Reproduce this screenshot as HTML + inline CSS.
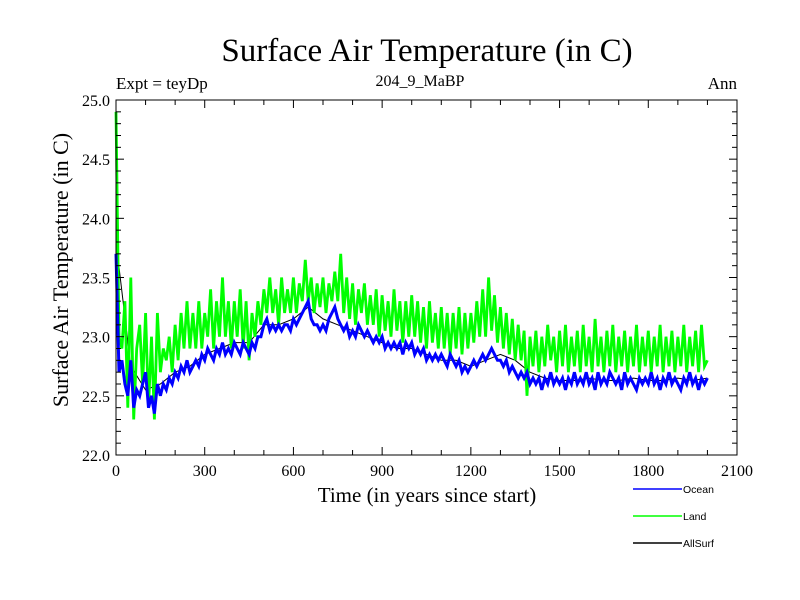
<!DOCTYPE html>
<html><head><meta charset="utf-8"><style>
body{margin:0;background:#fff}
svg{display:block}
text{font-family:"Liberation Serif",serif;fill:#000}
.lg{font-family:"Liberation Sans",sans-serif;font-size:10.5px}
</style></head><body>
<svg id="chart" width="800" height="600">
<text x="427" y="61" font-size="33" text-anchor="middle">Surface Air Temperature (in C)</text>
<text x="116" y="89" font-size="17">Expt = teyDp</text>
<text x="420" y="86" font-size="16" text-anchor="middle">204_9_MaBP</text>
<text x="737" y="89" font-size="17" text-anchor="end">Ann</text>
<text transform="translate(68,270) rotate(-90)" font-size="22" text-anchor="middle">Surface Air Temperature (in C)</text>
<text x="427" y="502" font-size="21" text-anchor="middle">Time (in years since start)</text>
<g id="series"></g>
<g id="axes"></g>
<g>
<line x1="633" y1="489" x2="682" y2="489" stroke="#0000ff" stroke-width="1.5"/>
<text x="683" y="493" class="lg">Ocean</text>
<line x1="633" y1="516" x2="682" y2="516" stroke="#00ff00" stroke-width="1.5"/>
<text x="683" y="520" class="lg">Land</text>
<line x1="633" y1="543" x2="682" y2="543" stroke="#000" stroke-width="1.5"/>
<text x="683" y="547" class="lg">AllSurf</text>
</g>
</svg>
<script>
const yearStep = 10;
const oceanValues = [23.7,22.7,22.8,22.6,22.5,22.8,22.4,22.55,22.5,22.6,22.7,22.4,22.5,22.35,22.6,22.5,22.6,22.55,22.65,22.6,
22.7,22.65,22.75,22.7,22.8,22.7,22.75,22.8,22.75,22.85,22.8,22.9,22.85,22.8,22.9,22.85,22.95,22.85,22.9,22.85,
22.95,22.9,22.85,22.95,22.9,22.85,22.95,22.9,23.0,23.0,23.1,23.15,23.05,23.1,23.05,23.1,23.05,23.1,23.1,23.05,
23.15,23.1,23.15,23.2,23.25,23.3,23.15,23.1,23.1,23.05,23.1,23.05,23.15,23.2,23.25,23.15,23.1,23.05,23.1,23.0,
23.05,23.0,23.1,23.05,23.0,23.05,23.0,22.95,23.0,22.95,23.0,22.9,22.95,22.9,22.95,22.9,22.95,22.85,22.95,22.9,
22.95,22.85,22.9,22.85,22.9,22.8,22.85,22.8,22.85,22.8,22.85,22.8,22.75,22.85,22.8,22.75,22.8,22.7,22.75,22.7,
22.75,22.8,22.75,22.8,22.85,22.8,22.85,22.9,22.85,22.8,22.8,22.75,22.8,22.7,22.75,22.7,22.65,22.7,22.65,22.7,
22.6,22.65,22.6,22.65,22.55,22.65,22.6,22.7,22.6,22.65,22.6,22.65,22.55,22.65,22.6,22.7,22.6,22.65,22.6,22.7,
22.6,22.65,22.55,22.7,22.6,22.65,22.6,22.7,22.65,22.6,22.65,22.55,22.7,22.6,22.65,22.6,22.55,22.65,22.6,22.65,
22.6,22.7,22.6,22.65,22.55,22.65,22.6,22.7,22.6,22.65,22.6,22.55,22.65,22.6,22.7,22.6,22.65,22.55,22.65,22.6,22.65];
const landValues = [24.9,23.0,22.9,23.3,22.4,23.5,22.3,22.9,23.1,22.6,23.2,22.4,23.0,22.3,23.2,22.7,22.9,22.8,23.0,22.7,
23.1,22.8,23.2,22.9,23.3,22.9,23.2,22.9,23.3,22.9,23.2,23.0,23.4,22.9,23.3,23.0,23.5,23.0,23.3,22.9,
23.3,23.0,23.4,22.9,23.3,22.8,23.2,23.0,23.3,23.1,23.4,23.2,23.5,23.2,23.4,23.1,23.5,23.2,23.4,23.2,
23.5,23.2,23.45,23.3,23.65,23.3,23.5,23.2,23.45,23.25,23.5,23.2,23.45,23.3,23.55,23.3,23.7,23.2,23.5,23.15,
23.45,23.1,23.4,23.2,23.45,23.1,23.35,23.1,23.4,23.0,23.35,23.05,23.3,23.0,23.4,23.05,23.3,22.95,23.3,23.0,
23.35,23.0,23.3,22.95,23.25,22.9,23.3,22.95,23.2,22.9,23.25,22.9,23.2,22.85,23.2,22.9,23.25,22.85,23.2,22.9,
23.2,22.95,23.3,23.0,23.4,23.0,23.5,23.05,23.35,22.95,23.25,22.9,23.2,22.85,23.15,22.8,23.1,22.8,23.05,22.5,
23.0,22.75,23.05,22.7,23.0,22.75,23.1,22.8,23.0,22.7,23.05,22.75,23.1,22.7,23.0,22.75,23.05,22.7,23.1,22.75,
23.0,22.7,23.15,22.75,23.0,22.7,23.05,22.75,23.1,22.7,23.0,22.75,23.05,22.7,23.0,22.75,23.1,22.7,23.0,22.75,
23.05,22.7,23.0,22.75,23.1,22.7,23.0,22.75,23.05,22.7,23.0,22.75,23.1,22.7,23.0,22.75,23.05,22.7,23.1,22.75,22.8];
const allSurfStep = 50;
const allSurfValues = [23.8,22.75,22.55,22.6,22.7,22.75,22.85,22.9,22.95,22.95,23.1,23.1,23.15,23.25,23.15,23.1,23.05,23.0,22.95,22.9,
22.9,22.85,22.8,22.8,22.75,22.8,22.85,22.8,22.7,22.65,22.63,22.63,22.65,22.63,22.63,22.65,22.63,22.63,22.65,22.63,22.65];
const xTicks = [0,300,600,900,1200,1500,1800,2100];
const yTicks = [22.0,22.5,23.0,23.5,24.0,24.5,25.0];

const X0=116,X1=737,Y0=455,Y1=100;
const xS = v => X0 + (v/2100)*(X1-X0);
const yS = v => Y0 - ((v-22)/3)*(Y0-Y1);
const NS="http://www.w3.org/2000/svg";
const series=document.getElementById('series');
const axes=document.getElementById('axes');
function mk(tag,attrs,parent){const e=document.createElementNS(NS,tag);for(const k in attrs)e.setAttribute(k,attrs[k]);parent.appendChild(e);return e;}
function line(vals,step,color,name,w){
  const pts=vals.map((v,i)=>xS(i*step).toFixed(1)+','+yS(v).toFixed(1)).join(' ');
  const p=mk('polyline',{points:pts,fill:'none',stroke:color,'stroke-width':w,'stroke-linejoin':'miter'},series);
  
  
}
line(allSurfValues,allSurfStep,'#000000','allsurf-line',1);
line(landValues,yearStep,'#00ff00','land-line',2.8);
line(oceanValues,yearStep,'#0000ff','ocean-line',3);

const frame=mk('rect',{x:X0,y:Y1,width:X1-X0,height:Y0-Y1,fill:'none',stroke:'#000','stroke-width':1},axes);


for(let v=0;v<=2100;v+=100){
  const major=v%300===0, L=major?8:5, x=xS(v);
  mk('line',{x1:x,y1:Y0,x2:x,y2:Y0-L,stroke:'#000'},axes);
  mk('line',{x1:x,y1:Y1,x2:x,y2:Y1+L,stroke:'#000'},axes);
}
for(let k=0;k<=30;k++){
  const v=22+k*0.1, major=k%5===0, L=major?8:5, y=yS(v);
  mk('line',{x1:X0,y1:y,x2:X0+L,y2:y,stroke:'#000'},axes);
  mk('line',{x1:X1,y1:y,x2:X1-L,y2:y,stroke:'#000'},axes);
}
xTicks.forEach(v=>{
  const t=mk('text',{x:xS(v),y:Y0+21,'font-size':16,'text-anchor':'middle'},axes);
  t.textContent=v;
  
  
});
yTicks.forEach(v=>{
  const t=mk('text',{x:X0-6,y:yS(v)+6,'font-size':16,'text-anchor':'end'},axes);
  t.textContent=v.toFixed(1);
  
  
});
</script>
</body></html>
